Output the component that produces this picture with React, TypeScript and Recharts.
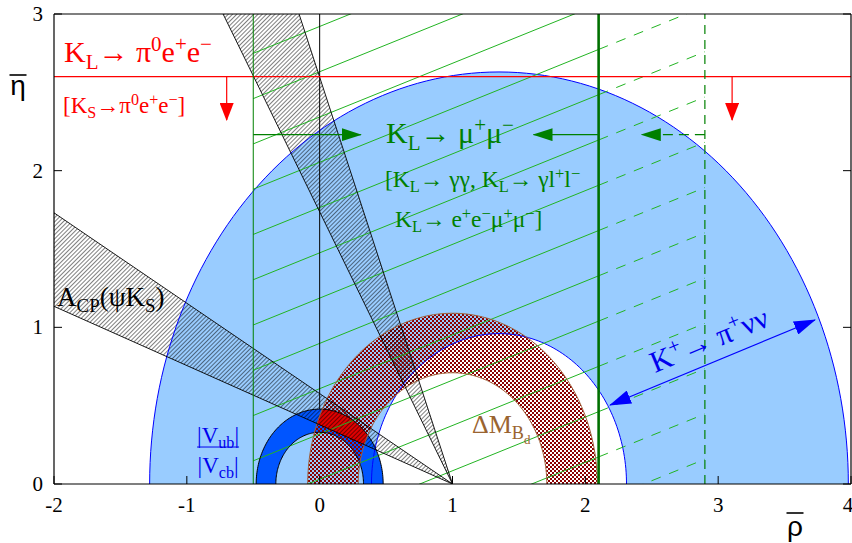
import React from 'react';
import { ComposedChart, XAxis, YAxis, Area, Line, Scatter, ReferenceLine } from 'recharts';

const SERIF = '"Liberation Serif", "Times New Roman", serif';
const SANS = '"Liberation Sans", "DejaVu Sans", sans-serif';
const RED = '#ff0000';
const GREEN = '#008000';
const BLUE = '#0000ee';

const X_TICKS = [-2, -1, 0, 1, 2, 3, 4];
const Y_TICKS = [0, 1, 2, 3];

// annuli: [centre on rho axis, inner radius, outer radius]
const K_PLUS_RING = [1.35, 0.96, 2.63];
const VUB_RING = [0, 0.33, 0.478];
const DM_RING = [1, 0.71, 1.09];

// A_CP(psi K_S) wedges from the apex (1,0): slopes of the two edges
const ACP_LOW_WEDGE = [0.378, 0.577];
const ACP_HIGH_WEDGE = [1.737, 2.597];

// K_L -> mu+ mu- : bounds on rho and the hatching between them
const KL_MUMU_LIMITS = [-0.5, 2.1];
const KL_MUMU_WEAK_LIMIT = 2.9;
const KL_MUMU_SLOPE = 0.343;
const KL_MUMU_STARTS = [2.749, 2.46, 2.171, 1.882, 1.593, 1.304, 1.015, 0.726, 0.437, 0.148, -0.141, -0.43, -0.719, -1.008];
const KL_MUMU_ARROW_Y = 2.23;
const KL_MUMU_ARROW_TIPS = [0.31, 1.61, 2.425];

// K_L -> pi0 e+ e- : bound on eta
const KL_PIEE_LIMIT = 2.6;
const KL_PIEE_ARROW_X = [-0.7, 3.105];
const KL_PIEE_ARROW_TIP = 2.323;

// K+ -> pi+ nu nu double arrow
const K_PLUS_ARROW = [{ x: 2.186, y: 0.504 }, { x: 3.729, y: 1.047 }];

// where the annotations sit (data units)
const NOTE_ANCHORS = [
  { id: 'klpiee', x: -1.925, y: 2.694 },
  { id: 'kspiee', x: -1.932, y: 2.368 },
  { id: 'klmumu', x: 0.5, y: 2.177 },
  { id: 'klgg', x: 0.492, y: 1.896 },
  { id: 'klee', x: 0.567, y: 1.64 },
  { id: 'acp', x: -1.977, y: 1.136 },
  { id: 'vub', x: -0.765, y: 0.236 },
  { id: 'dm', x: 1.147, y: 0.326 },
  { id: 'kpnn', x: 2.525, y: 0.708 },
];

// ---- shape tables built from the values above ----
const bandAt = (ring: number[], x: number) => {
  const [c, r0, r1] = ring;
  const d = x - c;
  return [Math.sqrt(Math.max(0, r0 * r0 - d * d)), r1 * r1 - d * d >= 0 ? Math.sqrt(r1 * r1 - d * d) : -1];
};

const ringRows = (ring: number[]) => {
  const [c, r0, r1] = ring;
  const xs: number[] = [];
  for (let i = 0; i <= 90; i++) {
    const t = (Math.PI * i) / 90;
    xs.push(c - r1 * Math.cos(t), c - r0 * Math.cos(t));
  }
  xs.sort((a, b) => a - b);
  return xs.map((x) => ({ x, band: bandAt(ring, x) }));
};

const arcRows = (c: number, r: number) =>
  Array.from({ length: 121 }, (_, i) => {
    const t = (Math.PI * i) / 120;
    return { x: c - r * Math.cos(t), y: r * Math.sin(t) };
  });

const wedgeRows = (slopes: number[], xEnd: number) => [
  { x: xEnd, band: [slopes[0] * (1 - xEnd), slopes[1] * (1 - xEnd)] },
  { x: 1, band: [0, 0] },
];

const overlapRows = () => {
  const rows: { x: number; band: number[] }[] = [];
  for (let i = 0; i <= 150; i++) {
    const x = -0.1 + i * 0.004;
    const [a0, a1] = bandAt(VUB_RING, x);
    const [b0, b1] = bandAt(DM_RING, x);
    const lo = Math.max(a0, b0, ACP_LOW_WEDGE[0] * (1 - x));
    const hi = Math.min(a1, b1, ACP_LOW_WEDGE[1] * (1 - x));
    if (hi > lo) rows.push({ x, band: [lo, hi] });
  }
  return rows;
};

const kPlusBand = ringRows(K_PLUS_RING);
const vubBand = ringRows(VUB_RING);
const dmBand = ringRows(DM_RING);
const spotBand = overlapRows();
const lowWedge = wedgeRows(ACP_LOW_WEDGE, -2);
const highWedge = wedgeRows(ACP_HIGH_WEDGE, 1 - 3 / ACP_HIGH_WEDGE[0]);

const [muLo, muHi] = KL_MUMU_LIMITS;
const solidHatch = KL_MUMU_STARTS.map((b) => [
  { x: muLo, y: b },
  { x: muHi, y: b + KL_MUMU_SLOPE * (muHi - muLo) },
]);
const dashedHatch = KL_MUMU_STARTS.map((b) => [
  { x: muHi, y: b + KL_MUMU_SLOPE * (muHi - muLo) },
  { x: KL_MUMU_WEAK_LIMIT, y: b + KL_MUMU_SLOPE * (KL_MUMU_WEAK_LIMIT - muLo) },
]);

// ---- text helpers ----
type Part = [string, number?];

function Rich({ x, y, size, color, parts, anchor, rotate }: any) {
  let cur = 0;
  return (
    <text
      x={x}
      y={y}
      fontSize={size}
      fill={color}
      fontFamily={SERIF}
      textAnchor={anchor || 'start'}
      style={{ whiteSpace: 'pre' }}
      transform={rotate ? `rotate(${rotate} ${x} ${y})` : undefined}
    >
      {(parts as Part[]).map(([t, lv = 0], i) => {
        const off = lv === 1 ? 0.22 * size : lv === -1 ? -0.36 * size : lv === 2 ? 0.42 * size : 0;
        const fs = lv === 0 ? size : lv === 2 ? 0.5 * size : 0.7 * size;
        const dy = off - cur;
        cur = off;
        return (
          <tspan key={i} dy={dy} fontSize={fs}>
            {t}
          </tspan>
        );
      })}
    </text>
  );
}

function Note({ id, x, y }: { id: string; x: number; y: number }) {
  switch (id) {
    case 'klpiee':
      return <Rich x={x} y={y} size={30} color={RED} parts={[['K'], ['L', 1], ['→ π'], ['0', -1], ['e'], ['+', -1], ['e'], ['−', -1]]} />;
    case 'kspiee':
      return <Rich x={x} y={y} size={23} color={RED} parts={[['[K'], ['S', 1], ['→π'], ['0', -1], ['e'], ['+', -1], ['e'], ['−', -1], [']']]} />;
    case 'klmumu':
      return <Rich x={x} y={y} size={30} color={GREEN} parts={[['K'], ['L', 1], ['→ μ'], ['+', -1], ['μ'], ['−', -1]]} />;
    case 'klgg':
      return <Rich x={x} y={y} size={23.5} color={GREEN} parts={[['[K'], ['L', 1], ['→ γγ, K'], ['L', 1], ['→ γl'], ['+', -1], ['l'], ['−', -1]]} />;
    case 'klee':
      return <Rich x={x} y={y} size={23.5} color={GREEN} parts={[['K'], ['L', 1], ['→ e'], ['+', -1], ['e'], ['−', -1], ['μ'], ['+', -1], ['μ'], ['−', -1], [']']]} />;
    case 'acp':
      return <Rich x={x} y={y} size={27} color="#000" parts={[['A'], ['CP', 1], ['(ψK'], ['S', 1], [')']]} />;
    case 'vub':
      return (
        <g>
          <Rich x={x} y={y - 4} size={23} color={BLUE} anchor="middle" parts={[['|V'], ['ub', 1], ['|']]} />
          <line x1={x - 21} x2={x + 21} y1={y} y2={y} stroke={BLUE} strokeWidth={1} />
          <Rich x={x} y={y + 26} size={23} color={BLUE} anchor="middle" parts={[['|V'], ['cb', 1], ['|']]} />
        </g>
      );
    case 'dm':
      return <Rich x={x} y={y} size={26} color="#9a6430" parts={[['ΔM'], ['B', 1], ['d', 2]]} />;
    case 'kpnn':
      return <Rich x={x} y={y} size={30} color={BLUE} rotate={-22.5} parts={[['K'], ['+', -1], ['→ π'], ['+', -1], ['νν']]} />;
    default:
      return null;
  }
}

const EtaLabel = (props: any) => {
  const vb = props.viewBox || { x: 0, y: 14, width: 54, height: 470 };
  const cx = vb.x + 18;
  return (
    <g>
      <line x1={cx - 8.5} x2={cx + 8.5} y1={vb.y + 61} y2={vb.y + 61} stroke="#000" strokeWidth={1.6} />
      <text x={cx} y={vb.y + 81} textAnchor="middle" fontFamily={SANS} fontSize={28} fill="#000">
        η
      </text>
    </g>
  );
};

const RhoLabel = (props: any) => {
  const vb = props.viewBox || { x: 54, y: 484, width: 797, height: 59 };
  const cx = vb.x + vb.width - 56;
  return (
    <g>
      <line x1={cx - 8.5} x2={cx + 8.5} y1={vb.y + 29} y2={vb.y + 29} stroke="#000" strokeWidth={1.6} />
      <text x={cx} y={vb.y + 52} textAnchor="middle" fontFamily={SANS} fontSize={28} fill="#000">
        ρ
      </text>
    </g>
  );
};

const XTick = (p: any) => (
  <text x={p.x} y={p.y} dy={15} textAnchor="middle" fontFamily={SERIF} fontSize={21} fill="#000">
    {p.payload.value}
  </text>
);

const YTick = (p: any) => (
  <text x={p.x} y={p.y} dy={7} textAnchor="end" fontFamily={SERIF} fontSize={21} fill="#000">
    {p.payload.value}
  </text>
);

const arrow = (color: string, head: string, dash?: string, both?: boolean) => (p: any) => (
  <line
    x1={p.x1}
    y1={p.y1}
    x2={p.x2}
    y2={p.y2}
    stroke={color}
    strokeWidth={1.2}
    strokeDasharray={dash}
    markerEnd={`url(#${head})`}
    markerStart={both ? `url(#${head})` : undefined}
  />
);

const frame = { stroke: '#000', strokeWidth: 1.2 };

export default function App() {
  return (
    <div style={{ position: 'absolute', left: 0, top: 0, width: 852, height: 543, background: '#fff' }}>
      <ComposedChart width={852} height={543} margin={{ top: 13, right: 0, bottom: 0, left: 0 }}>
        <defs>
          <pattern id="hatch" width={3} height={3} patternUnits="userSpaceOnUse" patternTransform="rotate(45)">
            <line x1={0} y1={0} x2={0} y2={3} stroke="#000" strokeWidth={1} />
          </pattern>
          <pattern id="checker" width={4} height={4} patternUnits="userSpaceOnUse">
            <rect x={0} y={0} width={2} height={2} fill="#8b0000" />
            <rect x={2} y={2} width={2} height={2} fill="#8b0000" />
          </pattern>
          <marker id="headRed" viewBox="0 0 18 14" markerWidth={18} markerHeight={14} refX={17} refY={7} orient="auto" markerUnits="userSpaceOnUse">
            <path d="M0,0 L18,7 L0,14 Z" fill={RED} />
          </marker>
          <marker id="headGreen" viewBox="0 0 20 13" markerWidth={20} markerHeight={13} refX={19} refY={6.5} orient="auto" markerUnits="userSpaceOnUse">
            <path d="M0,0 L20,6.5 L0,13 Z" fill={GREEN} />
          </marker>
          <marker id="headBlue" viewBox="0 0 22 14" markerWidth={22} markerHeight={14} refX={21} refY={7} orient="auto-start-reverse" markerUnits="userSpaceOnUse">
            <path d="M0,0 L22,7 L0,14 Z" fill="#0000ff" />
          </marker>
        </defs>

        <XAxis
          dataKey="x"
          type="number"
          domain={[-2, 4]}
          ticks={X_TICKS}
          allowDataOverflow
          height={59}
          tickSize={-8}
          tickMargin={21}
          tick={<XTick />}
          axisLine={frame}
          tickLine={{ stroke: '#000' }}
          label={<RhoLabel />}
        />
        <XAxis
          xAxisId="top"
          orientation="top"
          type="number"
          domain={[-2, 4]}
          ticks={X_TICKS}
          allowDataOverflow
          height={1}
          tickSize={-8}
          tickFormatter={() => ''}
          axisLine={frame}
          tickLine={{ stroke: '#000' }}
        />
        <YAxis
          type="number"
          domain={[0, 3]}
          ticks={Y_TICKS}
          allowDataOverflow
          width={54}
          tickSize={-8}
          tickMargin={19}
          tick={<YTick />}
          axisLine={frame}
          tickLine={{ stroke: '#000' }}
          label={<EtaLabel />}
        />
        <YAxis
          yAxisId="right"
          orientation="right"
          type="number"
          domain={[0, 3]}
          ticks={Y_TICKS}
          allowDataOverflow
          width={1}
          tickSize={-8}
          tickFormatter={() => ''}
          axisLine={frame}
          tickLine={{ stroke: '#000' }}
        />

        {/* K+ -> pi+ nu nu band */}
        <Area data={kPlusBand} dataKey="band" type="linear" fill="#99ccff" fillOpacity={1} stroke="none" isAnimationActive={false} activeDot={false} legendType="none" />
        <Line data={arcRows(K_PLUS_RING[0], K_PLUS_RING[2])} dataKey="y" type="linear" stroke="#0000ff" strokeWidth={1} dot={false} activeDot={false} isAnimationActive={false} legendType="none" />
        <Line data={arcRows(K_PLUS_RING[0], K_PLUS_RING[1])} dataKey="y" type="linear" stroke="#0000ff" strokeWidth={1} dot={false} activeDot={false} isAnimationActive={false} legendType="none" />

        {/* K_L -> mu mu hatching */}
        {solidHatch.map((seg, i) => (
          <ReferenceLine key={`s${i}`} segment={seg} stroke="#22b422" strokeWidth={1} ifOverflow="hidden" />
        ))}
        {dashedHatch.map((seg, i) => (
          <ReferenceLine key={`d${i}`} segment={seg} stroke="#22b422" strokeWidth={1} strokeDasharray="10 9" ifOverflow="hidden" />
        ))}
        <ReferenceLine segment={[{ x: 0, y: VUB_RING[2] }, { x: 0, y: 3 }]} stroke="#000" strokeWidth={1} />

        {/* |Vub/Vcb| */}
        <Area data={vubBand} dataKey="band" type="linear" fill="#0055ff" fillOpacity={1} stroke="none" isAnimationActive={false} activeDot={false} legendType="none" />
        <Line data={arcRows(VUB_RING[0], VUB_RING[2])} dataKey="y" type="linear" stroke="#000" strokeWidth={1} dot={false} activeDot={false} isAnimationActive={false} legendType="none" />
        <Line data={arcRows(VUB_RING[0], VUB_RING[1])} dataKey="y" type="linear" stroke="#000" strokeWidth={1} dot={false} activeDot={false} isAnimationActive={false} legendType="none" />

        {/* Delta M_Bd */}
        <Area data={dmBand} dataKey="band" type="linear" fill="url(#checker)" fillOpacity={1} stroke="none" isAnimationActive={false} activeDot={false} legendType="none" />
        <Line data={arcRows(DM_RING[0], DM_RING[2])} dataKey="y" type="linear" stroke="#a0603a" strokeWidth={1} dot={false} activeDot={false} isAnimationActive={false} legendType="none" />
        <Line data={arcRows(DM_RING[0], DM_RING[1])} dataKey="y" type="linear" stroke="#a0603a" strokeWidth={1} dot={false} activeDot={false} isAnimationActive={false} legendType="none" />

        {/* overlap of all constraints */}
        <Area data={spotBand} dataKey="band" type="linear" fill="#e00000" fillOpacity={1} stroke="none" isAnimationActive={false} activeDot={false} legendType="none" />

        {/* A_CP(psi K_S) wedges */}
        <Area data={lowWedge} dataKey="band" type="linear" fill="url(#hatch)" fillOpacity={1} stroke="none" isAnimationActive={false} activeDot={false} legendType="none" />
        <Area data={highWedge} dataKey="band" type="linear" fill="url(#hatch)" fillOpacity={1} stroke="none" isAnimationActive={false} activeDot={false} legendType="none" />
        {[...ACP_LOW_WEDGE, ...ACP_HIGH_WEDGE].map((s, i) => (
          <ReferenceLine
            key={`w${i}`}
            segment={[{ x: 1, y: 0 }, { x: i < 2 ? -2 : 1 - 3 / s, y: i < 2 ? 3 * s : 3 }]}
            stroke="#000"
            strokeWidth={0.9}
            ifOverflow="hidden"
          />
        ))}

        {/* K_L -> pi0 e e */}
        <ReferenceLine y={KL_PIEE_LIMIT} stroke={RED} strokeWidth={1.2} />
        {KL_PIEE_ARROW_X.map((x, i) => (
          <ReferenceLine
            key={`ra${i}`}
            segment={[{ x, y: KL_PIEE_LIMIT }, { x, y: KL_PIEE_ARROW_TIP }]}
            stroke={RED}
            ifOverflow="visible"
            shape={arrow(RED, 'headRed')}
          />
        ))}

        {/* K_L -> mu mu bounds */}
        <ReferenceLine x={KL_MUMU_LIMITS[0]} stroke={GREEN} strokeWidth={1} />
        <ReferenceLine x={KL_MUMU_LIMITS[1]} stroke="#007000" strokeWidth={2.6} />
        <ReferenceLine x={KL_MUMU_WEAK_LIMIT} stroke={GREEN} strokeWidth={1.2} strokeDasharray="9 6" />
        <ReferenceLine
          segment={[{ x: KL_MUMU_LIMITS[0], y: KL_MUMU_ARROW_Y }, { x: KL_MUMU_ARROW_TIPS[0], y: KL_MUMU_ARROW_Y }]}
          stroke={GREEN}
          ifOverflow="visible"
          shape={arrow(GREEN, 'headGreen')}
        />
        <ReferenceLine
          segment={[{ x: KL_MUMU_LIMITS[1], y: KL_MUMU_ARROW_Y }, { x: KL_MUMU_ARROW_TIPS[1], y: KL_MUMU_ARROW_Y }]}
          stroke={GREEN}
          ifOverflow="visible"
          shape={arrow(GREEN, 'headGreen')}
        />
        <ReferenceLine
          segment={[{ x: KL_MUMU_WEAK_LIMIT, y: KL_MUMU_ARROW_Y }, { x: KL_MUMU_ARROW_TIPS[2], y: KL_MUMU_ARROW_Y }]}
          stroke={GREEN}
          ifOverflow="visible"
          shape={arrow(GREEN, 'headGreen', '10 6')}
        />

        {/* K+ -> pi+ nu nu double arrow */}
        <ReferenceLine segment={K_PLUS_ARROW} stroke="#0000ff" ifOverflow="visible" shape={arrow('#0000ff', 'headBlue', undefined, true)} />

        <Scatter
          data={NOTE_ANCHORS}
          dataKey="y"
          isAnimationActive={false}
          legendType="none"
          shape={(p: any) => <Note id={p.payload.id} x={p.cx} y={p.cy} />}
        />
      </ComposedChart>
    </div>
  );
}
